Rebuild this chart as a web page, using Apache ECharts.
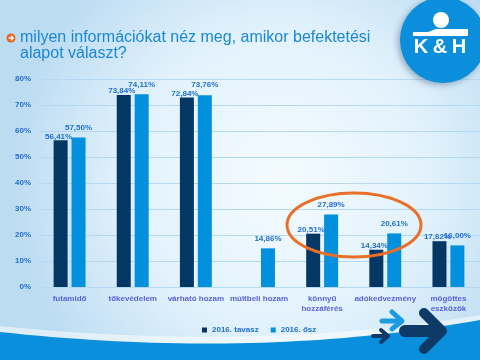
<!DOCTYPE html>
<html>
<head>
<meta charset="utf-8">
<script src="https://cdn.jsdelivr.net/npm/echarts@6/dist/echarts.min.js"></script>
<style>html,body{margin:0;padding:0;}#c{width:480px;height:360px;}</style>
</head>
<body>
<div id="c"></div>
<script>
var categories = ['futamidő', 'tőkevédelem', 'várható hozam', 'múltbeli hozam', 'könnyű\nhozzáférés', 'adókedvezmény', 'mögöttes\neszközök'];
var seriesNames = ['2016. tavasz', '2016. ősz'];
var spring2016 = [56.41, 73.84, 72.84, null, 20.51, 14.34, 17.62];
var autumn2016 = [57.50, 74.11, 73.76, 14.86, 27.89, 20.61, 16.00];
var yTicks = [0, 10, 20, 30, 40, 50, 60, 70, 80];
var titleText = 'milyen információkat néz meg, amikor befektetési\nalapot választ?';

var FONT = 'Liberation Sans, Arial, sans-serif';
function fmt(p) { return p.value == null ? '' : p.value.toFixed(2).replace('.', ',') + '%'; }

// decorative wave outline (quadratic curve sampled into a polygon)
function wave(y0, cx, cy, y1) {
  var pts = [];
  for (var i = 0; i <= 40; i++) {
    var t = i / 40;
    var x = 2 * (1 - t) * t * cx + t * t * 480;
    var y = (1 - t) * (1 - t) * y0 + 2 * (1 - t) * t * cy + t * t * y1;
    pts.push([x, y]);
  }
  pts.push([480, 360]); pts.push([0, 360]);
  return pts;
}

var chart = echarts.init(document.getElementById('c'), null, {renderer: 'canvas'});
chart.setOption({
  animation: false,
  backgroundColor: {
    type: 'radial', x: 0.58, y: 0.5, r: 0.75,
    colorStops: [{offset: 0, color: '#f4fbff'}, {offset: 0.55, color: '#e2f2fc'}, {offset: 1, color: '#bcdcf2'}]
  },
  grid: {left: 38, top: 79, width: 443, height: 208, containLabel: false},
  legend: {
    data: seriesNames, left: 197, top: 321, itemWidth: 5, itemHeight: 5, itemGap: 12,
    icon: 'rect',
    textStyle: {color: '#1f6fd0', fontSize: 8, fontWeight: 'bold', fontFamily: FONT}
  },
  xAxis: {
    type: 'category', data: categories,
    axisLine: {show: true, lineStyle: {color: '#b5d9f2', width: 1}},
    axisTick: {show: false},
    axisLabel: {color: '#5a62da', fontSize: 8, fontWeight: 'bold', fontFamily: FONT, margin: 7, lineHeight: 10, interval: 0}
  },
  yAxis: {
    type: 'value', min: yTicks[0], max: yTicks[yTicks.length - 1], interval: 10,
    axisLine: {show: false}, axisTick: {show: false},
    splitLine: {lineStyle: {color: '#b5d9f2', width: 1}},
    axisLabel: {formatter: '{value}%', color: '#1f6fd0', fontSize: 8, fontWeight: 'bold', fontFamily: FONT, margin: 7}
  },
  series: [
    {
      name: seriesNames[0], type: 'bar', data: spring2016, barWidth: 14, barGap: '28%',
      itemStyle: {color: '#043763'},
      label: {show: true, position: 'top', distance: 0, offset: [-2, 0], formatter: fmt,
        color: '#1f6fd0', fontSize: 8, fontWeight: 'bold', fontFamily: FONT}
    },
    {
      name: seriesNames[1], type: 'bar', data: autumn2016, barWidth: 14,
      itemStyle: {color: '#0090dd'},
      label: {show: true, position: 'top', distance: 6, formatter: fmt,
        color: '#1f6fd0', fontSize: 8, fontWeight: 'bold', fontFamily: FONT}
    }
  ],
  graphic: [
    {type: 'polygon', z: 1, shape: {points: wave(326, 260, 352, 315)}, style: {fill: 'rgba(255,255,255,0.5)'}},
    {type: 'polygon', z: 2, shape: {points: wave(332, 260, 360, 320)}, style: {fill: '#0a8fdc'}},
    {type: 'polyline', z: 5, shape: {points: [[382, 321], [401, 321]]}, style: {stroke: '#1b9be2', lineWidth: 5, lineCap: 'round'}},
    {type: 'polyline', z: 5, shape: {points: [[392, 312], [402, 321], [392, 329]]}, style: {stroke: '#1b9be2', fill: null, lineWidth: 5, lineCap: 'round', lineJoin: 'round'}},
    {type: 'polyline', z: 5, shape: {points: [[373, 336], [387, 336]]}, style: {stroke: '#0e3a68', lineWidth: 4, lineCap: 'round'}},
    {type: 'polyline', z: 5, shape: {points: [[381, 330], [388, 336], [381, 342]]}, style: {stroke: '#0e3a68', fill: null, lineWidth: 4, lineCap: 'round', lineJoin: 'round'}},
    {type: 'polyline', z: 5, shape: {points: [[405, 331], [440, 331]]}, style: {stroke: '#0e3a68', lineWidth: 12, lineCap: 'round'}},
    {type: 'polyline', z: 5, shape: {points: [[424, 313], [442, 331], [424, 349]]}, style: {stroke: '#0e3a68', fill: null, lineWidth: 10, lineCap: 'round', lineJoin: 'round'}},
    {type: 'ellipse', z: 10, shape: {cx: 354, cy: 225, rx: 67, ry: 32},
      style: {fill: null, stroke: '#e8702a', lineWidth: 3}},
    {type: 'circle', z: 20, shape: {cx: 443, cy: 40, r: 43}, style: {fill: '#0b8edb', shadowBlur: 6, shadowColor: 'rgba(0,40,80,0.35)', shadowOffsetX: -2, shadowOffsetY: 2}},
    {type: 'circle', z: 21, shape: {cx: 441, cy: 20, r: 8}, style: {fill: '#ffffff'}},
    {type: 'polygon', z: 21, shape: {points: [[413, 32], [428, 32], [436, 29], [468, 29], [468, 36], [413, 36]]}, style: {fill: '#ffffff'}},
    {type: 'text', z: 21, style: {text: 'K', x: 421, y: 47, fill: '#ffffff', font: 'bold 20px ' + FONT, textAlign: 'center', textVerticalAlign: 'middle'}},
    {type: 'text', z: 21, style: {text: '&', x: 440, y: 47, fill: '#ffffff', font: 'bold 20px ' + FONT, textAlign: 'center', textVerticalAlign: 'middle'}},
    {type: 'text', z: 21, style: {text: 'H', x: 459, y: 47, fill: '#ffffff', font: 'bold 20px ' + FONT, textAlign: 'center', textVerticalAlign: 'middle'}},
    {type: 'circle', z: 20, shape: {cx: 11, cy: 38, r: 4.5}, style: {fill: '#e8641e'}},
    {type: 'polyline', z: 21, shape: {points: [[8.5, 38], [13, 38]]}, style: {stroke: '#ffffff', lineWidth: 1.4}},
    {type: 'polyline', z: 21, shape: {points: [[11, 35.8], [13.2, 38], [11, 40.2]]}, style: {stroke: '#ffffff', fill: null, lineWidth: 1.4}},
    {type: 'text', z: 20, left: 20, top: 30, style: {text: titleText, fill: '#1b87d6', font: '16px ' + FONT, lineHeight: 16}}
  ]
});
</script>
</body>
</html>
